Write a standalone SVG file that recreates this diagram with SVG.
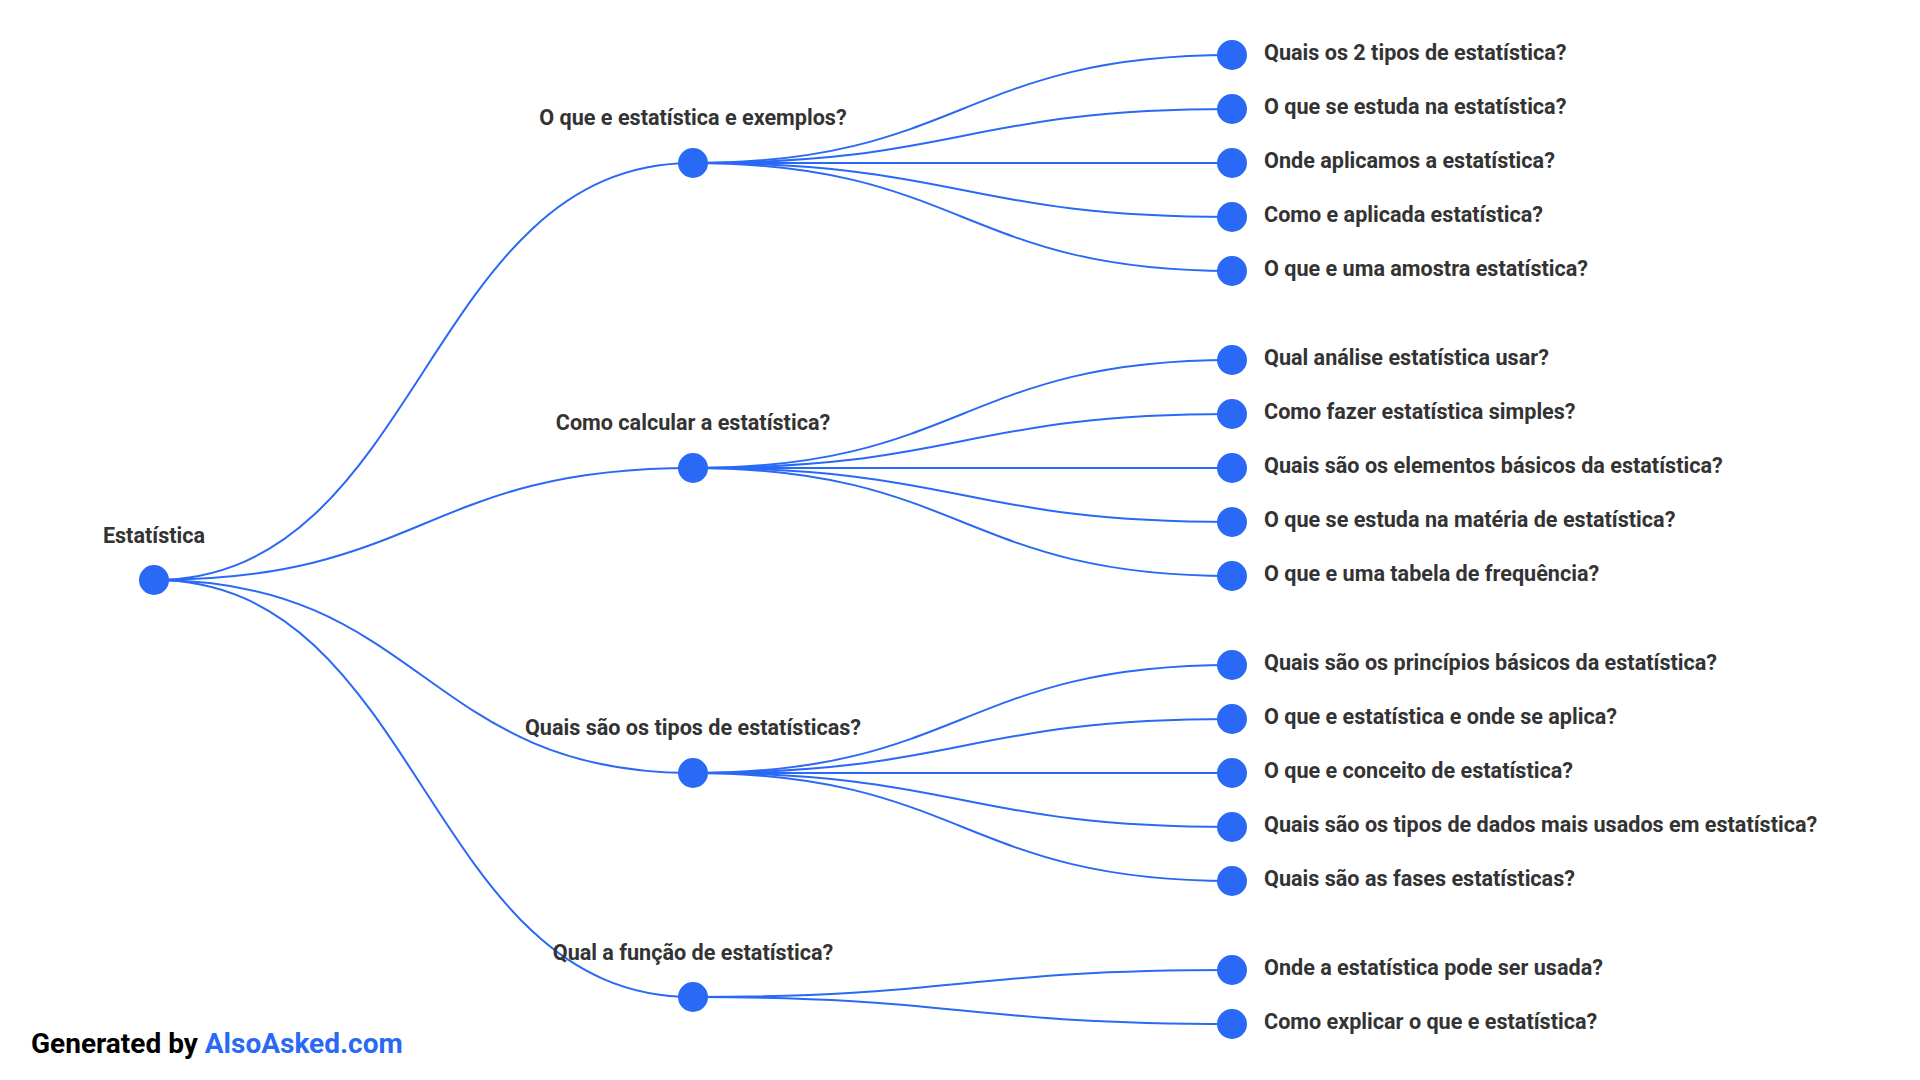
<svg xmlns="http://www.w3.org/2000/svg" width="1920" height="1080" viewBox="0 0 1920 1080">
<style>
.bg{fill:#ffffff}
.link{fill:none;stroke:#2969f6;stroke-width:2}
.dot{fill:#2969f6}
.lbl{font-family:Roboto,"Liberation Sans",sans-serif;font-weight:700;font-size:21.6px;fill:#333333}
.mid{text-anchor:middle}
.foot{font-family:Roboto,"Liberation Sans",sans-serif;font-weight:700;font-size:28px;fill:#000000}
.brand{fill:#2969f6}
</style>
<rect class="bg" x="0" y="0" width="1920" height="1080"/>
<g id="connectors">
<path class="link" d="M154,580 C423.5,580 423.5,163 693,163"/>
<path class="link" d="M154,580 C423.5,580 423.5,468 693,468"/>
<path class="link" d="M154,580 C423.5,580 423.5,773 693,773"/>
<path class="link" d="M154,580 C423.5,580 423.5,997 693,997"/>
<path class="link" d="M693,163 C962.5,163 962.5,55 1232,55"/>
<path class="link" d="M693,163 C962.5,163 962.5,109 1232,109"/>
<path class="link" d="M693,163 C962.5,163 962.5,163 1232,163"/>
<path class="link" d="M693,163 C962.5,163 962.5,217 1232,217"/>
<path class="link" d="M693,163 C962.5,163 962.5,271 1232,271"/>
<path class="link" d="M693,468 C962.5,468 962.5,360 1232,360"/>
<path class="link" d="M693,468 C962.5,468 962.5,414 1232,414"/>
<path class="link" d="M693,468 C962.5,468 962.5,468 1232,468"/>
<path class="link" d="M693,468 C962.5,468 962.5,522 1232,522"/>
<path class="link" d="M693,468 C962.5,468 962.5,576 1232,576"/>
<path class="link" d="M693,773 C962.5,773 962.5,665 1232,665"/>
<path class="link" d="M693,773 C962.5,773 962.5,719 1232,719"/>
<path class="link" d="M693,773 C962.5,773 962.5,773 1232,773"/>
<path class="link" d="M693,773 C962.5,773 962.5,827 1232,827"/>
<path class="link" d="M693,773 C962.5,773 962.5,881 1232,881"/>
<path class="link" d="M693,997 C962.5,997 962.5,970 1232,970"/>
<path class="link" d="M693,997 C962.5,997 962.5,1024 1232,1024"/>
</g>
<g id="root"><circle class="dot" cx="154" cy="580" r="15"/><text class="lbl mid" x="154" y="543">Estatística</text></g>
<g id="q1"><circle class="dot" cx="693" cy="163" r="15"/><text class="lbl mid" x="693" y="125">O que e estatística e exemplos?</text></g>
<g id="q2"><circle class="dot" cx="693" cy="468" r="15"/><text class="lbl mid" x="693" y="430">Como calcular a estatística?</text></g>
<g id="q3"><circle class="dot" cx="693" cy="773" r="15"/><text class="lbl mid" x="693" y="735">Quais são os tipos de estatísticas?</text></g>
<g id="q4"><circle class="dot" cx="693" cy="997" r="15"/><text class="lbl mid" x="693" y="960">Qual a função de estatística?</text></g>
<g id="q1a"><circle class="dot" cx="1232" cy="55" r="15"/><text class="lbl" x="1264" y="60">Quais os 2 tipos de estatística?</text></g>
<g id="q1b"><circle class="dot" cx="1232" cy="109" r="15"/><text class="lbl" x="1264" y="114">O que se estuda na estatística?</text></g>
<g id="q1c"><circle class="dot" cx="1232" cy="163" r="15"/><text class="lbl" x="1264" y="168">Onde aplicamos a estatística?</text></g>
<g id="q1d"><circle class="dot" cx="1232" cy="217" r="15"/><text class="lbl" x="1264" y="222">Como e aplicada estatística?</text></g>
<g id="q1e"><circle class="dot" cx="1232" cy="271" r="15"/><text class="lbl" x="1264" y="276">O que e uma amostra estatística?</text></g>
<g id="q2a"><circle class="dot" cx="1232" cy="360" r="15"/><text class="lbl" x="1264" y="365">Qual análise estatística usar?</text></g>
<g id="q2b"><circle class="dot" cx="1232" cy="414" r="15"/><text class="lbl" x="1264" y="419">Como fazer estatística simples?</text></g>
<g id="q2c"><circle class="dot" cx="1232" cy="468" r="15"/><text class="lbl" x="1264" y="473">Quais são os elementos básicos da estatística?</text></g>
<g id="q2d"><circle class="dot" cx="1232" cy="522" r="15"/><text class="lbl" x="1264" y="527">O que se estuda na matéria de estatística?</text></g>
<g id="q2e"><circle class="dot" cx="1232" cy="576" r="15"/><text class="lbl" x="1264" y="581">O que e uma tabela de frequência?</text></g>
<g id="q3a"><circle class="dot" cx="1232" cy="665" r="15"/><text class="lbl" x="1264" y="670">Quais são os princípios básicos da estatística?</text></g>
<g id="q3b"><circle class="dot" cx="1232" cy="719" r="15"/><text class="lbl" x="1264" y="724">O que e estatística e onde se aplica?</text></g>
<g id="q3c"><circle class="dot" cx="1232" cy="773" r="15"/><text class="lbl" x="1264" y="778">O que e conceito de estatística?</text></g>
<g id="q3d"><circle class="dot" cx="1232" cy="827" r="15"/><text class="lbl" x="1264" y="832">Quais são os tipos de dados mais usados em estatística?</text></g>
<g id="q3e"><circle class="dot" cx="1232" cy="881" r="15"/><text class="lbl" x="1264" y="886">Quais são as fases estatísticas?</text></g>
<g id="q4a"><circle class="dot" cx="1232" cy="970" r="15"/><text class="lbl" x="1264" y="975">Onde a estatística pode ser usada?</text></g>
<g id="q4b"><circle class="dot" cx="1232" cy="1024" r="15"/><text class="lbl" x="1264" y="1029">Como explicar o que e estatística?</text></g>
<g id="footer"><text class="foot" x="31" y="1053">Generated by <tspan class="brand">AlsoAsked.com</tspan></text></g>
</svg>
